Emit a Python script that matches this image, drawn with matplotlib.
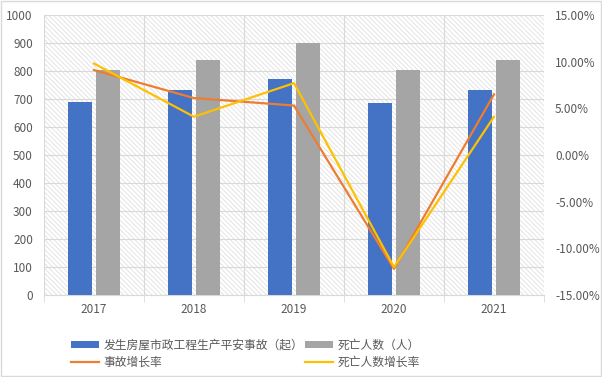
import matplotlib
matplotlib.use("Agg")
import matplotlib.pyplot as plt
import numpy as np
from matplotlib.patches import Rectangle
from matplotlib.ticker import FuncFormatter, FixedLocator

plt.rcParams['font.family'] = ['Noto Sans CJK SC', 'DejaVu Sans']
plt.rcParams['hatch.linewidth'] = 0.6

years = ['2017', '2018', '2019', '2020', '2021']
accidents = [689, 732, 771, 686, 732]
deaths = [803, 839, 900, 803, 839]
accident_growth = [9.1, 6.1, 5.3, -12.2, 6.5]
death_growth = [9.8, 4.1, 7.7, -12.0, 4.1]

label_acc = '发生房屋市政工程生产平安事故（起）'
label_death = '死亡人数（人）'
label_acc_g = '事故增长率'
label_death_g = '死亡人数增长率'

tc = '#595959'
fig = plt.figure(figsize=(6.02, 3.77), dpi=100)
fig.patches.append(Rectangle((0.0015, 0.002), 0.997, 0.995, transform=fig.transFigure,
                             fill=False, edgecolor='#d9d9d9', linewidth=1))
ax = fig.add_axes([44/602, 1-295/377, 500/602, 280/377])
x = np.arange(len(years))
ax.add_patch(Rectangle((0, 0), 1, 1, transform=ax.transAxes, fill=False,
                       hatch='\\' * 7, edgecolor='#e0e0e0', linewidth=0, zorder=0))
b1 = ax.bar(x - 0.14, accidents, 0.24, color='#4472C4', label=label_acc, zorder=3)
b2 = ax.bar(x + 0.14, deaths, 0.24, color='#A5A5A5', label=label_death, zorder=3)
ax.set_xlim(-0.5, len(years) - 0.5)
ax.set_ylim(0, 1000)
ax.set_yticks(np.arange(0, 1001, 100))
ax.set_xticks(x)
ax.set_xticklabels(years)
ax.xaxis.set_minor_locator(FixedLocator(np.arange(-0.5, len(years), 1.0)))
ax.tick_params(axis='x', which='major', length=0, colors=tc, labelsize=8.5, pad=6)
ax.tick_params(axis='x', which='minor', length=5, color='#d9d9d9')
ax.tick_params(axis='y', length=0, colors=tc, labelsize=8.5, pad=8)
ax.grid(axis='y', color='#d9d9d9', linewidth=0.8, zorder=1)
ax.grid(axis='x', which='minor', color='#d9d9d9', linewidth=0.8, zorder=1)
ax.set_axisbelow(True)
for s in ['top', 'right', 'left']:
    ax.spines[s].set_visible(False)
ax.spines['bottom'].set_color('#d9d9d9')

ax2 = ax.twinx()
l1, = ax2.plot(x, accident_growth, color='#ED7D31', linewidth=1.6, label=label_acc_g, zorder=4)
l2, = ax2.plot(x, death_growth, color='#FFC000', linewidth=1.6, label=label_death_g, zorder=5)
ax2.set_ylim(-15, 15)
ax2.set_yticks(np.arange(-15, 16, 5))
ax2.yaxis.set_major_formatter(FuncFormatter(lambda v, p: f'{v:.2f}%'))
ax2.tick_params(axis='y', length=0, colors=tc, labelsize=8.5, pad=8)
for s in ax2.spines.values():
    s.set_visible(False)

fig.legend([b1, l1, b2, l2], [label_acc, label_acc_g, label_death, label_death_g],
           loc='upper left', bbox_to_anchor=(60/602, 1-328/377), ncol=2, frameon=False,
           fontsize=8.5, labelcolor=tc, handlelength=2.4, handleheight=0.5,
           handletextpad=0.4, columnspacing=0.1, labelspacing=0.35)

fig.savefig('out.png', dpi=100)
